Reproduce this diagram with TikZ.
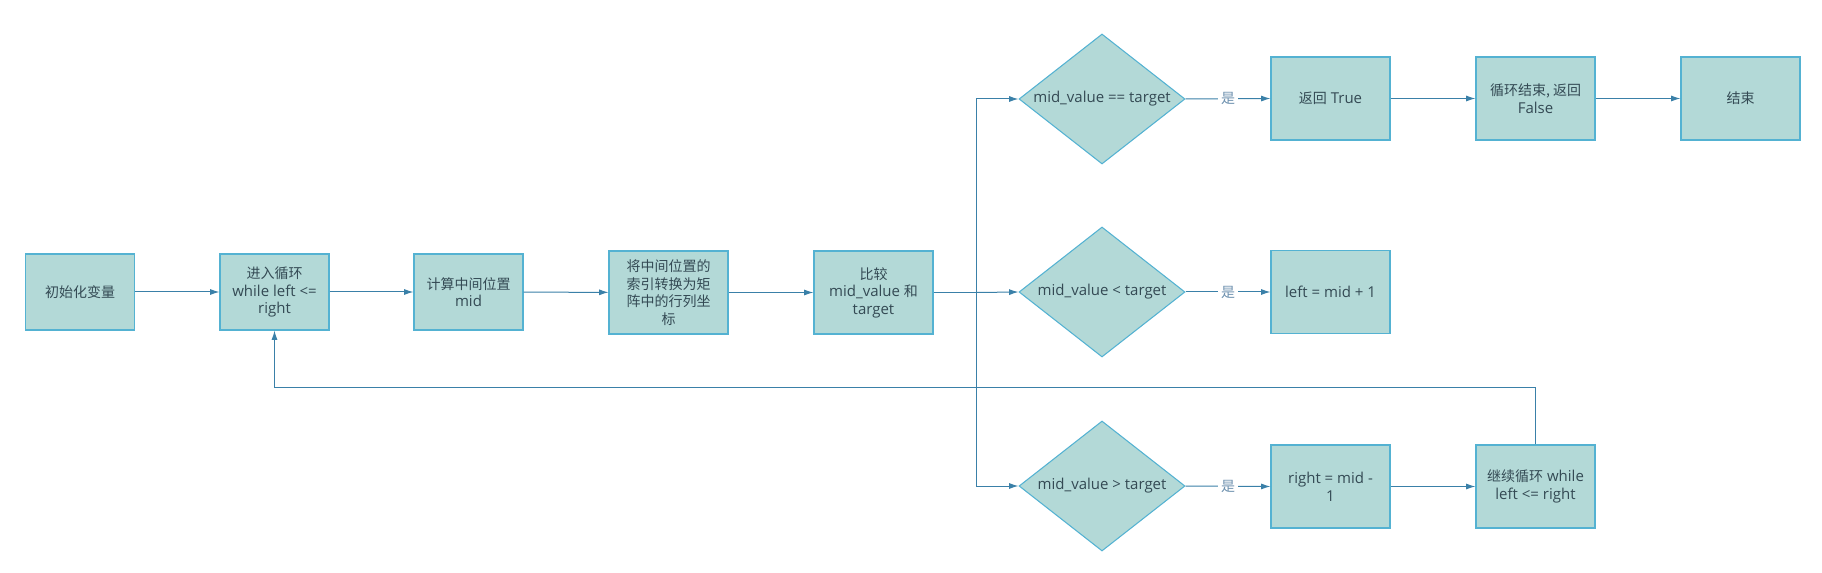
\documentclass[tikz,border=0pt]{standalone}
\usepackage{fontspec}
\setmainfont{Open Sans}
\newfontfamily\cjkfont{Noto Sans CJK SC}
\newcommand{\zht}[1]{{\cjkfont\fontsize{10.5pt}{13.2pt}\selectfont #1}}
\usetikzlibrary{shapes.geometric,arrows.meta}
\definecolor{boxfill}{RGB}{179,217,215}
\definecolor{boxdraw}{RGB}{84,178,210}
\definecolor{boxtext}{RGB}{52,74,84}
\definecolor{linecol}{RGB}{58,128,168}
\definecolor{labcol}{RGB}{110,145,175}
\tikzset{
  base/.style={draw=boxdraw, fill=boxfill, line width=0.8pt, text=boxtext, align=center, inner sep=0pt},
  smallbox/.style={base, rectangle, minimum width=81.75pt, minimum height=57pt},
  bigbox/.style={base, rectangle, minimum width=89.25pt, minimum height=62.25pt},
  decide/.style={base, diamond, aspect=1.28, minimum width=124.5pt, minimum height=97.5pt},
  conn/.style={draw=linecol, line width=0.75pt},
  arr/.style={conn, -{Latex[length=7pt,width=4.5pt]}},
  yes/.style={fill=white, text=labcol, inner sep=2.2pt}
}
\begin{document}
\begin{tikzpicture}[x=0.75pt,y=-0.75pt, font=\fontsize{11.25pt}{13.2pt}\selectfont]
\useasboundingbox (0,0) rectangle (1822,573);
\node[smallbox] (init) at (80,292) {\zht{初始化变量}};
\node[smallbox] (loop) at (274.5,292) {\zht{进入循环}\\while left <=\\right};
\node[smallbox] (calc) at (468.5,292) {\zht{计算中间位置}\\mid};
\node[bigbox] (conv) at (668.5,292.5) {\zht{将中间位置的}\\\zht{索引转换为矩}\\\zht{阵中的行列坐}\\\zht{标}};
\node[bigbox] (cmp) at (873.5,292.5) {\zht{比较}\\mid\_value \zht{和}\\target};
\node[decide] (d1) at (1102,99) {mid\_value == target};
\node[decide] (d2) at (1102,292) {mid\_value < target};
\node[decide] (d3) at (1102,486) {mid\_value > target};
\node[bigbox] (ret) at (1330.5,98.5) {\zht{返回} True};
\node[bigbox] (endloop) at (1535.5,98.5) {\zht{循环结束, 返回}\\False};
\node[bigbox] (end) at (1740.5,98.5) {\zht{结束}};
\node[bigbox] (left) at (1330.5,292) {left = mid + 1};
\node[bigbox] (right) at (1330.5,486.5) {right = mid -\\1};
\node[bigbox] (cont) at (1535.5,486.5) {\zht{继续循环} while\\left <= right};
\coordinate (j) at (976,292.5);
\coordinate (fb) at (1535.5,387);
\draw[arr] (init) -- (loop);
\draw[arr] (loop) -- (calc);
\draw[arr] (calc) -- (conv);
\draw[arr] (conv) -- (cmp);
\draw[conn] (cmp.east) -- (j);
\draw[arr] (j) -- (d2.west);
\draw[arr] (j) |- (d1.west);
\draw[arr] (j) |- (d3.west);
\draw[arr] (d1.east) -- node[yes] {\zht{是}} (ret.west);
\draw[arr] (d2.east) -- node[yes] {\zht{是}} (left.west);
\draw[arr] (d3.east) -- node[yes] {\zht{是}} (right.west);
\draw[arr] (ret) -- (endloop);
\draw[arr] (endloop) -- (end);
\draw[arr] (right) -- (cont);
\draw[arr] (cont.north) -- (fb) -| (loop.south);
\end{tikzpicture}
\end{document}
